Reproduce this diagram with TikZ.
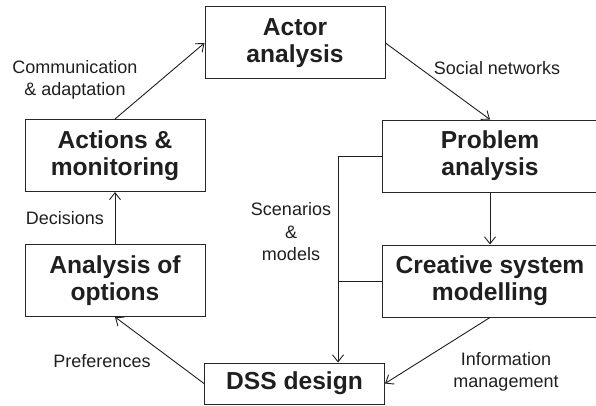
\documentclass[tikz,border=0pt]{standalone}
\usepackage{fontspec}
\setmainfont{Liberation Sans}
\usepackage{tikz}
\usetikzlibrary{arrows.meta, positioning}

\begin{document}
\begin{tikzpicture}[
    x=1pt, y=1pt,
    box/.style={draw=black!85, line width=1pt, minimum width=180pt, minimum height=72pt,
        inner sep=0pt, align=center, text=black!88,
        font=\fontsize{24.6}{27}\selectfont\bfseries},
    lbl/.style={draw=none, inner sep=0pt, align=center, text=black!88,
        font=\fontsize{18}{22.5}\selectfont},
    link/.style={draw=black!88, line width=0.9pt, -{Straight Barb[length=7pt, width=11pt, line width=0.9pt]}},
]
\useasboundingbox (0,0) rectangle (596,405);

\node[box] (actor) at (295,362) {Actor\\analysis};
\node[box, minimum width=216pt] (problem) at (490,249) {Problem\\analysis};
\node[box, minimum width=216pt] (creative) at (490,124) {Creative system\\modelling};
\node[box, minimum height=41pt] (dss) at (294.5,21.5) {DSS design};
\node[box] (actions) at (115,249.5) {Actions \&\\monitoring};
\node[box] (options) at (115,124.5) {Analysis of\\options};

\coordinate (turn) at (338,249);

\draw[link] (actions.north) -- (actor.west);
\draw[link] (actor.east) -- (problem.north);
\draw[link] (problem.south) -- (creative.north);
\draw[link] (problem.west) -- (turn) -- (turn |- dss.north);
\draw[draw=black!88, line width=0.9pt] (creative.west) -- (creative.west -| turn);
\draw[link] (creative.south) -- (dss.east);
\draw[link] (dss.west) -- (options.south);
\draw[link] (options.north) -- (actions.south);

\node[lbl] (comm) at (75,325) {Communication\\\& adaptation};
\node[lbl] (social) at (497,337) {Social networks};
\node[lbl] (decisions) at (65,187) {Decisions};
\node[lbl] (scen) at (291,173) {Scenarios\\\&\\models};
\node[lbl] (prefs) at (102,44) {Preferences};
\node[lbl] (info) at (506,33) {Information\\management};

\end{tikzpicture}
\end{document}
